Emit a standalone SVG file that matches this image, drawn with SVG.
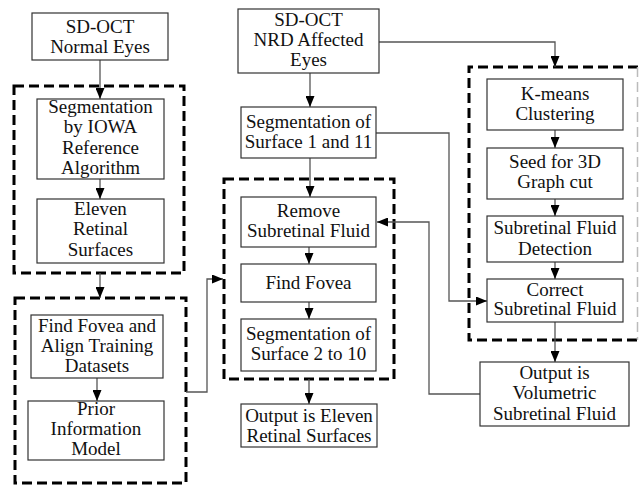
<svg xmlns="http://www.w3.org/2000/svg" width="639" height="486" viewBox="0 0 639 486">
<style>
.box{fill:#fff;stroke:#333;stroke-width:1.2}
.dash{fill:none;stroke:#000;stroke-width:3;stroke-dasharray:10 5}
.con{fill:none;stroke:#555;stroke-width:1.3}
text{font-family:"Liberation Serif","Times New Roman",serif;font-size:19px;fill:#111;text-anchor:middle}
</style>
<defs>
<marker id="ah" viewBox="0 0 11 9" refX="11" refY="4.5" markerWidth="11" markerHeight="9" orient="auto" markerUnits="userSpaceOnUse">
<path d="M0,0 L11,4.5 L0,9 z" fill="#000"/>
</marker>
</defs>
<rect width="639" height="486" fill="#fff"/>
<g id="groups">
<rect class="dash" x="14" y="86" width="170" height="187"/>
<rect class="dash" x="15" y="298" width="171" height="185"/>
<rect class="dash" x="224" y="179" width="170" height="200"/>
<path class="dash" d="M638 67 H469 V340 H638"/>
<path d="M637.5 67 V340" fill="none" stroke="#bbb" stroke-width="1.5" stroke-dasharray="10 5"/>
</g>
<g id="connectors" marker-end="url(#ah)">
<path class="con" d="M100 60 V99"/>
<path class="con" d="M100 179 V199"/>
<path class="con" d="M100 273 V298"/>
<path class="con" d="M97 378 V401"/>
<path class="con" d="M186 392 H207 V279 H223"/>
<path class="con" d="M310 73 V107"/>
<path class="con" d="M379 42 H555 V67"/>
<path class="con" d="M310 158 V197"/>
<path class="con" d="M376 133 H449 V301 H487"/>
<path class="con" d="M309 247 V264"/>
<path class="con" d="M309 302 V319"/>
<path class="con" d="M309 379 V404"/>
<path class="con" d="M555 130 V148"/>
<path class="con" d="M555 199 V216"/>
<path class="con" d="M555 262 V279"/>
<path class="con" d="M555 322 V362"/>
<path class="con" d="M480 394 H429 V222 H377"/>
</g>
<g id="normal-eyes"><rect class="box" x="32" y="13" width="136" height="47"/><text x="100" y="33">SD-OCT</text><text x="100" y="53">Normal Eyes</text></g>
<g id="iowa"><rect class="box" x="37" y="99" width="127" height="80"/><text x="100.5" y="113">Segmentation</text><text x="100.5" y="133">by IOWA</text><text x="100.5" y="154">Reference</text><text x="100.5" y="174">Algorithm</text></g>
<g id="eleven"><rect class="box" x="37" y="199" width="127" height="64"/><text x="100.5" y="215">Eleven</text><text x="100.5" y="235">Retinal</text><text x="100.5" y="256">Surfaces</text></g>
<g id="align"><rect class="box" x="31" y="315" width="132" height="63"/><text x="97" y="332">Find Fovea and</text><text x="97" y="352">Align Training</text><text x="97" y="372">Datasets</text></g>
<g id="prior"><rect class="box" x="28" y="401" width="136" height="59"/><text x="96" y="415">Prior</text><text x="96" y="435">Information</text><text x="96" y="455">Model</text></g>
<g id="nrd"><rect class="box" x="238" y="9" width="141" height="64"/><text x="308.5" y="26">SD-OCT</text><text x="308.5" y="46">NRD Affected</text><text x="308.5" y="66">Eyes</text></g>
<g id="seg111"><rect class="box" x="241" y="107" width="135" height="51"/><text x="308.5" y="128">Segmentation of</text><text x="308.5" y="148">Surface 1 and 11</text></g>
<g id="remove"><rect class="box" x="241" y="197" width="135" height="50"/><text x="308.5" y="217">Remove</text><text x="308.5" y="237">Subretinal Fluid</text></g>
<g id="fovea"><rect class="box" x="241" y="264" width="135" height="38"/><text x="308.5" y="289">Find Fovea</text></g>
<g id="seg210"><rect class="box" x="241" y="319" width="135" height="52"/><text x="308.5" y="340">Segmentation of</text><text x="308.5" y="360">Surface 2 to 10</text></g>
<g id="out-eleven"><rect class="box" x="241" y="404" width="136" height="43"/><text x="309" y="422">Output is Eleven</text><text x="309" y="442">Retinal Surfaces</text></g>
<g id="kmeans"><rect class="box" x="487" y="79" width="136" height="51"/><text x="555" y="100">K-means</text><text x="555" y="120">Clustering</text></g>
<g id="seed"><rect class="box" x="487" y="148" width="136" height="51"/><text x="555" y="168">Seed for 3D</text><text x="555" y="188">Graph cut</text></g>
<g id="detection"><rect class="box" x="487" y="216" width="136" height="46"/><text x="555" y="234">Subretinal Fluid</text><text x="555" y="255">Detection</text></g>
<g id="correct"><rect class="box" x="487" y="279" width="136" height="43"/><text x="555" y="296">Correct</text><text x="555" y="315">Subretinal Fluid</text></g>
<g id="volumetric"><rect class="box" x="480" y="362" width="149" height="64"/><text x="554.5" y="379">Output is</text><text x="554.5" y="399">Volumetric</text><text x="554.5" y="420">Subretinal Fluid</text></g>
</svg>
